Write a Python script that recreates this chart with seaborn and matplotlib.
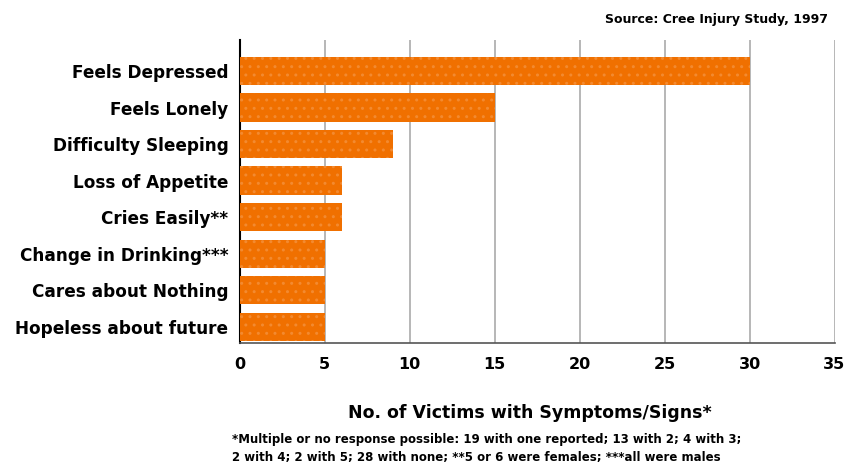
import matplotlib
matplotlib.use("Agg")
import matplotlib.pyplot as plt
import seaborn as sns
import pandas as pd

categories = ["Feels Depressed", "Feels Lonely", "Difficulty Sleeping", "Loss of Appetite",
              "Cries Easily**", "Change in Drinking***", "Cares about Nothing", "Hopeless about future"]
values = [30, 15, 9, 6, 6, 5, 5, 5]
xticks = [0, 5, 10, 15, 20, 25, 30, 35]

df = pd.DataFrame({"symptom": categories, "victims": values})

sns.set_style("white")
plt.rcParams["font.family"] = ["DejaVu Sans"]
plt.rcParams["font.weight"] = "bold"
plt.rcParams["text.color"] = "black"
plt.rcParams["xtick.color"] = "black"
plt.rcParams["ytick.color"] = "black"
plt.rcParams["hatch.color"] = "#F38A30"

fig = plt.figure(figsize=(8.46, 4.68), dpi=100)
ax = fig.add_axes([239.5/846, 1-343/468, 595/846, 303/468])

sns.barplot(data=df, y="symptom", x="victims", orient="h", color="#F07000",
            width=0.77, saturation=1, ax=ax, zorder=3)
for p in ax.patches:
    p.set_hatch("..")
    p.set_edgecolor("#F38A30")
    p.set_linewidth(0)

ax.set_xlim(0, 35)
ax.set_ylim(7.45, -0.85)
ax.set_xticks(xticks)
ax.set_xticklabels([str(t) for t in xticks], fontsize=11.5, fontweight="bold", color="black")
ax.tick_params(axis="y", labelsize=12.2, length=0, pad=8, labelcolor="black")
ax.tick_params(axis="x", length=0, pad=10)
for lbl in ax.get_yticklabels():
    lbl.set_fontweight("bold")
ax.xaxis.grid(True, color="#AAAAAA", linewidth=1.2, zorder=0)
ax.set_axisbelow(True)
for s in ["top", "right"]:
    ax.spines[s].set_visible(False)
ax.spines["left"].set_color("black")
ax.spines["left"].set_linewidth(1.5)
ax.spines["bottom"].set_color("#555555")
ax.spines["bottom"].set_linewidth(1.2)
ax.set_ylabel("")
ax.set_xlabel("")

fig.text(828/846, 1-20/468, "Source: Cree Injury Study, 1997", ha="right", va="center",
         fontsize=9, fontweight="bold", color="black")
fig.text(530/846, 1-413/468, "No. of Victims with Symptoms/Signs*", ha="center", va="center",
         fontsize=12.5, fontweight="bold", color="black")
fig.text(232/846, 1-440/468,
         "*Multiple or no response possible: 19 with one reported; 13 with 2; 4 with 3;",
         ha="left", va="center", fontsize=8.5, fontweight="bold", color="black")
fig.text(232/846, 1-457/468,
         "2 with 4; 2 with 5; 28 with none; **5 or 6 were females; ***all were males",
         ha="left", va="center", fontsize=8.5, fontweight="bold", color="black")

fig.savefig("out.png", dpi=100)
